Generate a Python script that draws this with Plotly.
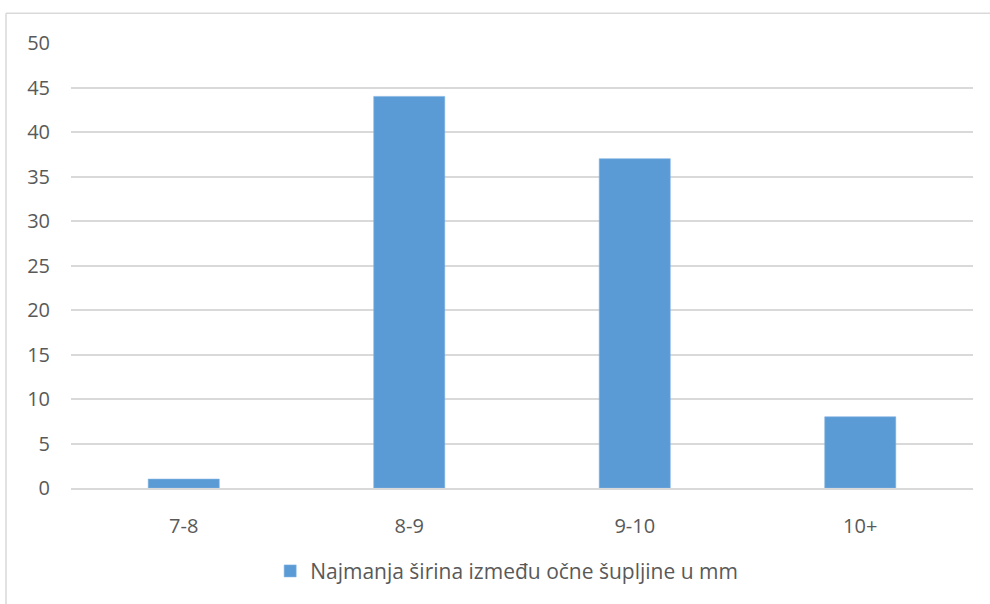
import plotly.graph_objects as go

categories = ["7-8", "8-9", "9-10", "10+"]
values = [1, 44, 37, 8]
series_name = "Najmanja širina između očne šupljine u mm"
y_ticks = [0, 5, 10, 15, 20, 25, 30, 35, 40, 45, 50]

W, H = 990, 604
L, R, T, B = 71, 17, 43, 112
pw, ph = W - L - R, H - T - B

def px(x):
    return (x - L) / pw

def py(y):
    return (H - B - y) / ph

fig = go.Figure()
fig.add_trace(go.Bar(
    x=categories, y=values, name=series_name,
    marker=dict(color="#5B9BD5", line=dict(color="#7FB2E0", width=0.6)),
    showlegend=True,
))

font = "Open Sans, Noto Sans, sans-serif"
fig.update_layout(
    width=W, height=H,
    margin=dict(l=L, r=R, t=T, b=B),
    paper_bgcolor="white", plot_bgcolor="white",
    bargap=0.685,
    font=dict(family=font, size=20, color="#595959"),
    showlegend=True,
    legend=dict(orientation="h", x=0.483, xanchor="center", y=py(576), yanchor="middle",
                font=dict(size=21, color="#595959"), itemwidth=30),
    xaxis=dict(showgrid=False, showline=True, linecolor="#D9D9D9", linewidth=1.5,
               ticks="", ticklabelstandoff=19, tickfont=dict(size=20, color="#595959")),
    yaxis=dict(range=[0, 50], tickvals=y_ticks, showgrid=True, gridcolor="#D9D9D9",
               gridwidth=1.5, zeroline=False, showline=False, ticks="",
               ticklabelstandoff=20, tickfont=dict(size=20, color="#595959")),
    shapes=[
        dict(type="line", xref="paper", yref="paper", x0=px(6), x1=px(990), y0=py(13), y1=py(13),
             line=dict(color="#D9D9D9", width=1.5)),
        dict(type="line", xref="paper", yref="paper", x0=px(6), x1=px(6), y0=py(13), y1=py(610),
             line=dict(color="#D9D9D9", width=1.5)),
    ],
)

fig.write_html("out.html", config={"displayModeBar": False},
               post_script="document.body.style.margin='0';")
